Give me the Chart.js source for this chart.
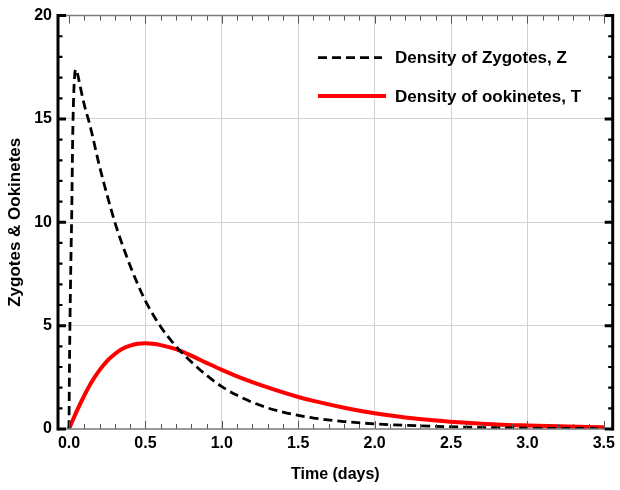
<!DOCTYPE html>
<html>
<head>
<meta charset="utf-8">
<script src="https://cdn.jsdelivr.net/npm/chart.js@4.4.1/dist/chart.umd.min.js"></script>
<style>
  html, body { margin: 0; padding: 0; background: #fff; }
  #wrap { width: 620px; height: 490px; }
</style>
</head>
<body>
<div id="wrap"><canvas id="myChart" width="620" height="490"></canvas></div>
<script>
// values
const timeZ = [0, 0.003, 0.007, 0.012, 0.018, 0.024, 0.03, 0.037, 0.045, 0.055, 0.07, 0.09, 0.11, 0.13, 0.15,
  0.2, 0.25, 0.3, 0.35, 0.4, 0.45, 0.5, 0.6, 0.7, 0.8, 0.9, 1.0, 1.1, 1.2, 1.3, 1.4, 1.5, 1.6, 1.8,
  2.0, 2.2, 2.4, 2.6, 2.8, 3.0, 3.2, 3.5];
const zygotes = [0, 3, 5.5, 8, 10.5, 14, 16, 17.1, 17.4, 17.2, 16.7, 16.0, 15.4, 14.9, 14.3,
  12.7, 11.3, 10.0, 8.9, 7.9, 7.0, 6.2, 4.95, 4.0, 3.25, 2.6, 2.05, 1.63, 1.29, 1.02, 0.82, 0.66, 0.53, 0.36,
  0.25, 0.18, 0.13, 0.09, 0.06, 0.04, 0.03, 0.02];

const timeT = [0, 0.05, 0.1, 0.15, 0.2, 0.25, 0.3, 0.35, 0.4, 0.45, 0.5, 0.55, 0.6, 0.7, 0.8, 0.9,
  1.0, 1.1, 1.2, 1.3, 1.4, 1.5, 1.6, 1.8, 2.0, 2.2, 2.4, 2.6, 2.8, 3.0, 3.2, 3.5];
const ookinetes = [0, 0.85, 1.62, 2.3, 2.85, 3.3, 3.63, 3.88, 4.03, 4.12, 4.15, 4.12, 4.06, 3.86, 3.55, 3.2,
  2.86, 2.55, 2.27, 2.01, 1.77, 1.55, 1.36, 1.03, 0.76, 0.56, 0.41, 0.3, 0.22, 0.17, 0.13, 0.09];

const seriesLabels = ['Density of Zygotes, Z', 'Density of ookinetes, T'];
const xTitle = 'Time (days)';
const yTitle = 'Zygotes & Ookinetes';

const FONT = '"Liberation Sans", Arial, sans-serif';

function isMajor(v, step) {
  const r = v / step;
  return Math.abs(r - Math.round(r)) < 1e-6;
}

// frame with inward ticks, like the original plot
const framePlugin = {
  id: 'frame',
  afterDraw(chart) {
    const ctx = chart.ctx;
    const a = chart.chartArea;
    const xs = chart.scales.x, ys = chart.scales.y;
    ctx.save();
    // top / bottom ticks
    ctx.strokeStyle = '#555';
    ctx.lineWidth = 1;
    xs.ticks.forEach(t => {
      const px = Math.round(xs.getPixelForValue(t.value)) + 0.5;
      const len = isMajor(t.value, 0.5) ? 8 : 5;
      ctx.beginPath();
      ctx.moveTo(px, a.bottom); ctx.lineTo(px, a.bottom - len);
      ctx.moveTo(px, a.top); ctx.lineTo(px, a.top + len);
      ctx.stroke();
    });
    // top / bottom frame
    ctx.strokeStyle = '#7a7a7a';
    ctx.lineWidth = 1.5;
    ctx.beginPath();
    ctx.moveTo(a.left, a.top); ctx.lineTo(a.right, a.top);
    ctx.moveTo(a.left, a.bottom); ctx.lineTo(a.right, a.bottom);
    ctx.stroke();
    // left / right ticks
    ctx.strokeStyle = '#000';
    ys.ticks.forEach(t => {
      const py = ys.getPixelForValue(t.value);
      const major = isMajor(t.value, 5);
      ctx.lineWidth = major ? 3 : 2.2;
      const len = major ? 8 : 4.5;
      ctx.beginPath();
      ctx.moveTo(a.left, py); ctx.lineTo(a.left + len, py);
      ctx.moveTo(a.right, py); ctx.lineTo(a.right - len, py);
      ctx.stroke();
    });
    // left / right frame
    ctx.lineWidth = 3;
    ctx.beginPath();
    ctx.moveTo(a.left, a.top - 1.5); ctx.lineTo(a.left, a.bottom + 1.5);
    ctx.moveTo(a.right, a.top - 1.5); ctx.lineTo(a.right, a.bottom + 1.5);
    ctx.stroke();

    // legend inside the plot
    ctx.font = 'bold 17px ' + FONT;
    ctx.textBaseline = 'middle';
    ctx.textAlign = 'left';
    chart.data.datasets.forEach((ds, i) => {
      const y = a.top + 42 + i * 38.5;
      const x0 = a.left + 260;
      ctx.strokeStyle = ds.borderColor;
      ctx.lineWidth = ds.borderWidth;
      ctx.setLineDash(ds.borderDash || []);
      ctx.beginPath();
      ctx.moveTo(x0, y); ctx.lineTo(x0 + (ds.borderDash ? 64 : 68), y);
      ctx.stroke();
      ctx.setLineDash([]);
      ctx.fillStyle = '#000';
      ctx.fillText(ds.label, x0 + 77, y + 1);
    });
    ctx.restore();
  }
};

const ctx = document.getElementById('myChart').getContext('2d');
new Chart(ctx, {
  type: 'line',
  data: {
    datasets: [{
      label: seriesLabels[0],
      data: timeZ.map((t, i) => ({ x: t, y: zygotes[i] })),
      borderColor: '#000',
      borderWidth: 2.8,
      borderDash: [9, 5],
      pointRadius: 0,
      fill: false,
      cubicInterpolationMode: 'monotone'
    }, {
      label: seriesLabels[1],
      data: timeT.map((t, i) => ({ x: t, y: ookinetes[i] })),
      borderColor: '#ff0000',
      borderWidth: 4,
      pointRadius: 0,
      fill: false,
      cubicInterpolationMode: 'monotone'
    }]
  },
  options: {
    responsive: false,
    animation: false,
    layout: { padding: { top: 15, right: 3, left: 0, bottom: 0 } },
    plugins: {
      legend: { display: false },
      tooltip: { enabled: false }
    },
    scales: {
      x: {
        type: 'linear',
        min: -0.072,
        max: 3.558,
        afterFit: s => { s.height = 61; },
        border: { display: false },
        grid: {
          drawTicks: false,
          color: c => (c.tick && c.tick.value > 0.01 && c.tick.value < 3.45 && isMajor(c.tick.value, 0.5)) ? '#d2d2d2' : 'rgba(0,0,0,0)',
          lineWidth: 1
        },
        ticks: {
          stepSize: 0.1,
          includeBounds: false,
          autoSkip: false,
          maxRotation: 0,
          padding: 5,
          color: '#000',
          font: { family: FONT, size: 16, weight: 'bold' },
          callback: v => isMajor(v, 0.5) ? (Math.round(v * 2) / 2).toFixed(1) : ''
        },
        title: {
          display: true,
          text: xTitle,
          color: '#000',
          font: { family: FONT, size: 16, weight: 'bold' },
          padding: { top: 0, bottom: 6 }
        }
      },
      y: {
        type: 'linear',
        min: 0,
        max: 20,
        afterFit: s => { s.width = 58; },
        border: { display: false },
        grid: {
          drawTicks: false,
          color: c => (c.tick && c.tick.value > 0 && c.tick.value < 20 && isMajor(c.tick.value, 5)) ? '#d2d2d2' : 'rgba(0,0,0,0)',
          lineWidth: 1
        },
        ticks: {
          stepSize: 1,
          autoSkip: false,
          padding: 6,
          color: '#000',
          font: { family: FONT, size: 16, weight: 'bold' },
          callback: v => isMajor(v, 5) ? String(Math.round(v)) : ''
        },
        title: {
          display: true,
          text: yTitle,
          color: '#000',
          font: { family: FONT, size: 17, weight: 'bold' },
          padding: { top: 5, bottom: 0 }
        }
      }
    }
  },
  plugins: [framePlugin]
});
</script>
</body>
</html>
